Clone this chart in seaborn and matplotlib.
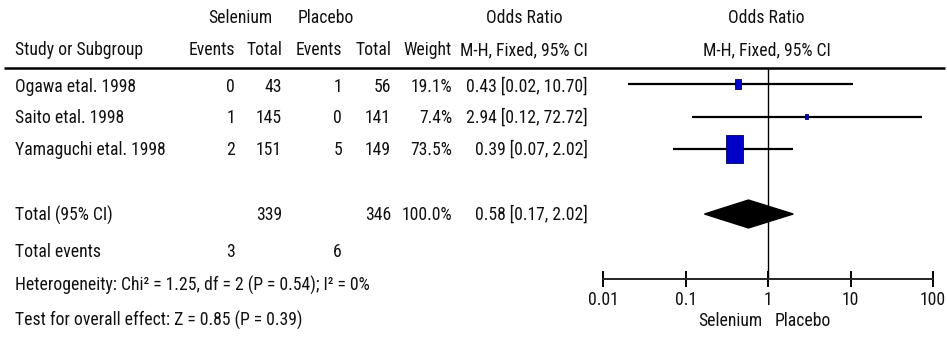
import numpy as np
import matplotlib
matplotlib.use("Agg")
import matplotlib.pyplot as plt
from matplotlib.path import Path
from matplotlib import font_manager
from matplotlib.font_manager import FontProperties
import seaborn as sns

# ---------------- data ----------------
studies = ["Ogawa etal. 1998", "Saito etal. 1998", "Yamaguchi etal. 1998"]
sel_events = [0, 1, 2]
sel_total = [43, 145, 151]
plc_events = [1, 0, 5]
plc_total = [56, 141, 149]
weights = [19.1, 7.4, 73.5]
odds = [0.43, 2.94, 0.39]
ci_low = [0.02, 0.12, 0.07]
ci_high = [10.70, 72.72, 2.02]

total_label = "Total (95% CI)"
total_sel = 339
total_plc = 346
total_weight = 100.0
total_or = 0.58
total_low = 0.17
total_high = 2.02
total_sel_events = 3
total_plc_events = 6
heterogeneity = "Heterogeneity: Chi\u00b2 = 1.25, df = 2 (P = 0.54); I\u00b2 = 0%"
overall = "Test for overall effect: Z = 0.85 (P = 0.39)"

tick_values = [0.01, 0.1, 1, 10, 100]
tick_labels = ["0.01", "0.1", "1", "10", "100"]
favours = ["Selenium", "Placebo"]

# ---------------- style / font choice ----------------
sns.set_style("white")
plt.rcParams["font.family"] = ["Liberation Sans", "DejaVu Sans"]

def pick_font():
    entries = font_manager.fontManager.ttflist
    def find(pred):
        for f in entries:
            if pred(f):
                return f.fname
        return None
    tests = [
        lambda f: f.name == "Liberation Sans Narrow" and f.weight in (400, "normal", "regular") and f.style == "normal",
        lambda f: f.name == "Liberation Sans Narrow" and f.style == "normal",
        lambda f: "Condensed" in f.name and "Roboto" in f.name and f.style == "normal" and f.weight in (400, "normal", "regular"),
        lambda f: f.name == "DejaVu Sans" and "condensed" in str(f.stretch) and f.style == "normal" and f.weight in (400, "normal", "regular"),
        lambda f: ("Narrow" in f.name or "Condensed" in f.name) and f.style == "normal" and f.weight in (400, "normal", "regular"),
        lambda f: f.name == "Liberation Sans" and f.style == "normal" and f.weight in (400, "normal", "regular"),
    ]
    for tst in tests:
        p = find(tst)
        if p:
            return p
    return None

font_path = pick_font()

W, H = 947, 342
fig = plt.figure(figsize=(W / 100, H / 100), dpi=100)
fig.patch.set_facecolor("white")

def fprop(size):
    if font_path:
        return FontProperties(fname=font_path, size=size)
    return FontProperties(family="DejaVu Sans", size=size)

# size the font so that the header "Study or Subgroup" is ~128 px wide
renderer = fig.canvas.get_renderer()
probe = fig.text(0, 0, "Study or Subgroup", fontproperties=fprop(10))
pw = probe.get_window_extent(renderer).width
probe.remove()
fs = min(13.6, 10 * 128.0 / pw)
FP = fprop(fs)
TXT = "#111111"

# table layer in pixel units
ax_t = fig.add_axes([0, 0, 1, 1])
ax_t.set_xlim(0, W)
ax_t.set_ylim(H, 0)
ax_t.axis("off")

def t(x, y, s, ha="left"):
    ax_t.text(x, y, s, ha=ha, va="center", color=TXT, fontproperties=FP)

# headers
t(240, 18, "Selenium", "center")
t(326, 18, "Placebo", "center")
t(524, 18, "Odds Ratio", "center")
t(766, 18, "Odds Ratio", "center")
col_right = [235, 282, 342, 391, 452, 588]
t(15, 50, "Study or Subgroup")
for x, s in zip(col_right, ["Events", "Total", "Events", "Total", "Weight", "M-H, Fixed, 95% CI"]):
    t(x, 50, s, "right")
t(767, 50, "M-H, Fixed, 95% CI", "center")
ax_t.plot([4, 945], [68, 68], color="black", lw=1.8, solid_capstyle="butt")

row_y = [87, 118, 150]
for i, name in enumerate(studies):
    y = row_y[i]
    t(15, y, name)
    vals = [str(sel_events[i]), str(sel_total[i]), str(plc_events[i]), str(plc_total[i]),
            f"{weights[i]:.1f}%", f"{odds[i]:.2f} [{ci_low[i]:.2f}, {ci_high[i]:.2f}]"]
    for x, s in zip(col_right, vals):
        t(x, y, s, "right")

ty = 215
t(15, ty, total_label)
t(col_right[1], ty, str(total_sel), "right")
t(col_right[3], ty, str(total_plc), "right")
t(col_right[4], ty, f"{total_weight:.1f}%", "right")
t(col_right[5], ty, f"{total_or:.2f} [{total_low:.2f}, {total_high:.2f}]", "right")

t(15, 252, "Total events")
t(col_right[0], 252, str(total_sel_events), "right")
t(col_right[2], 252, str(total_plc_events), "right")
t(15, 285, heterogeneity)
t(15, 320, overall)

# ---------------- forest axes ----------------
x0, x1 = 603, 933
ytop, ybot = 67.75, 279
ax = fig.add_axes([x0 / W, 1 - ybot / H, (x1 - x0) / W, (ybot - ytop) / H])
ax.set_xscale("log")
ax.set_xlim(tick_values[0], tick_values[-1])
ax.set_ylim(6, -0.5)
ax.patch.set_alpha(0)
for sp in ["top", "right", "left"]:
    ax.spines[sp].set_visible(False)
ax.spines["bottom"].set_linewidth(1.4)
ax.set_yticks([])
ax.set_xticks(tick_values)
ax.set_xticklabels(tick_labels, fontproperties=FP, color=TXT)
ax.minorticks_off()
ax.tick_params(axis="x", which="major", bottom=True, direction="inout", length=11,
               width=1.4, pad=3, color="black")

ax.axvline(1, color="black", lw=1.0)

rows = np.arange(len(studies))
ax.hlines(rows, ci_low, ci_high, color="black", lw=1.6)

w = np.array(weights)
heights_pt = 0.754 * w ** 0.765
rect = Path([(-0.31, -0.5), (0.31, -0.5), (0.31, 0.5), (-0.31, 0.5), (-0.31, -0.5)],
            [Path.MOVETO, Path.LINETO, Path.LINETO, Path.LINETO, Path.CLOSEPOLY])
sns.scatterplot(x=odds, y=rows, ax=ax, marker=rect, s=heights_pt ** 2,
                color="#0000c8", edgecolor="#000060", linewidth=0.6, zorder=3, legend=False)

h = 0.43
ty_row = 4
ax.fill([total_low, total_or, total_high, total_or],
        [ty_row, ty_row - h, ty_row, ty_row + h], color="black", zorder=3)

ax.set_xlabel("")
ax.annotate(favours[0], xy=(1, 0), xycoords=("data", "axes fraction"),
            xytext=(-6, -42), textcoords="offset pixels", ha="right", va="center",
            fontproperties=FP, color=TXT)
ax.annotate(favours[1], xy=(1, 0), xycoords=("data", "axes fraction"),
            xytext=(7, -42), textcoords="offset pixels", ha="left", va="center",
            fontproperties=FP, color=TXT)

fig.savefig("out.png", dpi=100, facecolor="white")
